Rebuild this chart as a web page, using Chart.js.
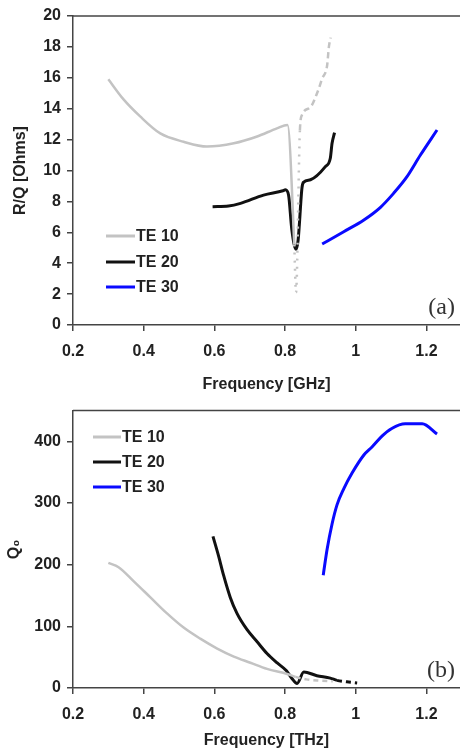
<!DOCTYPE html>
<html lang="en">
<head>
    <meta charset="UTF-8">
    <title>R/Q and Q0 vs Frequency</title>
    <script src="https://cdn.jsdelivr.net/npm/chart.js"></script>
    <style>
        body {
            margin: 0;
            background: white;
        }
        canvas {
            display: block;
        }
    </style>
</head>
<body>

    <canvas id="chartA" width="460" height="395"></canvas>
    <canvas id="chartB" width="460" height="355"></canvas>

    <script>
        // ---- panel (a): R/Q [Ohms] ----
        const rqTe10Freq = [0.300, 0.343, 0.390, 0.447, 0.513, 0.579, 0.655, 0.721, 0.777, 0.807, 0.826, 0.831, 0.842, 0.848, 0.872, 0.893, 0.905, 0.919, 0.924, 0.929];
        const rqTe10 = [15.9, 14.6, 13.5, 12.4, 11.86, 11.55, 11.76, 12.2, 12.73, 12.95, 5.2, 2.1, 12.6, 13.6, 14.1, 15.15, 15.95, 16.8, 18.0, 18.6];

        const rqTe20Freq = [0.595, 0.640, 0.674, 0.739, 0.794, 0.801, 0.810, 0.819, 0.831, 0.837, 0.848, 0.853, 0.872, 0.914, 0.928, 0.933, 0.940];
        const rqTe20 = [7.66, 7.70, 7.87, 8.41, 8.69, 8.75, 8.4, 6.2, 4.9, 5.5, 8.9, 9.25, 9.4, 10.25, 10.79, 11.76, 12.45];

        const rqTe30Freq = [0.905, 0.966, 1.023, 1.070, 1.107, 1.145, 1.183, 1.230];
        const rqTe30 = [5.24, 6.04, 6.8, 7.62, 8.52, 9.6, 11.0, 12.62];

        // ---- panel (b): Q0 ----
        const qTe10Freq = [0.300, 0.329, 0.372, 0.419, 0.466, 0.513, 0.560, 0.608, 0.655, 0.702, 0.749, 0.806, 0.830, 0.860, 0.900, 0.935];
        const qTe10 = [203, 196, 173, 147, 121, 98, 80, 64, 51, 41, 31, 22.8, 18, 14, 12, 11];

        const qTe20Freq = [0.596, 0.612, 0.626, 0.645, 0.664, 0.692, 0.721, 0.749, 0.777, 0.804, 0.820, 0.834, 0.853, 0.890, 0.928, 0.947, 0.975, 1.004];
        const qTe20 = [246, 214, 183, 147, 121, 95, 75, 56, 41, 28, 15, 7.3, 26, 20, 16, 12.4, 10, 8.3];

        const qTe30Freq = [0.908, 0.919, 0.933, 0.947, 0.966, 0.990, 1.023, 1.046, 1.075, 1.102, 1.140, 1.188, 1.230];
        const qTe30 = [183, 225, 266, 297, 323, 349, 378, 391, 409, 421, 428.5, 428.5, 412];

        const seriesLabels = ['TE 10', 'TE 20', 'TE 30'];
        const seriesColors = ['#c3c3c3', '#111111', '#0a0aff'];

        const freqTicks = [0.2, 0.4, 0.6, 0.8, 1.0, 1.2];

        function toPoints(xs, ys) {
            return xs.map((x, i) => ({ x: x, y: ys[i] }));
        }

        const tickFont = { family: "'Liberation Sans', Arial, sans-serif", size: 16, weight: 'bold' };
        const axisColor = '#444';

        // legend, top frame line and panel letter
        const decorPlugin = {
            id: 'decor',
            afterDraw(chart, args, opts) {
                const ctx = chart.ctx;
                const area = chart.chartArea;
                ctx.save();
                ctx.strokeStyle = axisColor;
                ctx.lineWidth = 1.5;
                ctx.beginPath();
                ctx.moveTo(area.left, area.top);
                ctx.lineTo(area.right, area.top);
                ctx.stroke();

                ctx.font = "bold 16px 'Liberation Sans', Arial, sans-serif";
                ctx.textBaseline = 'middle';
                ctx.textAlign = 'left';
                seriesLabels.forEach((label, i) => {
                    const y = opts.legendY[i];
                    ctx.strokeStyle = seriesColors[i];
                    ctx.lineWidth = 3;
                    ctx.beginPath();
                    ctx.moveTo(opts.legendX, y);
                    ctx.lineTo(opts.legendX + opts.legendLen, y);
                    ctx.stroke();
                    ctx.fillStyle = '#222';
                    ctx.fillText(label, opts.legendX + opts.legendLen + 1, y + 1);
                });

                ctx.font = "24px 'Liberation Serif', 'Times New Roman', serif";
                ctx.textAlign = 'right';
                ctx.fillStyle = '#333';
                ctx.fillText(opts.letter, opts.letterX, opts.letterY);
                ctx.restore();
            }
        };

        function makeChart(canvasId, sets, yOpts, xTitle, yTitle, yTitlePad, xTitlePad, layoutTop, xHeight, decor) {
            const dashRules = sets.map(s => s.dash);
            return new Chart(document.getElementById(canvasId), {
                type: 'line',
                data: {
                    datasets: sets.map((s, i) => ({
                        label: seriesLabels[i],
                        data: s.points,
                        borderColor: seriesColors[i],
                        borderWidth: i === 0 ? 2.5 : 3,
                        pointRadius: 0,
                        fill: false,
                        cubicInterpolationMode: 'monotone',
                        segment: {
                            borderDash: ctx => dashRules[i](ctx.p0.parsed.x)
                        }
                    }))
                },
                plugins: [decorPlugin],
                options: {
                    responsive: false,
                    animation: false,
                    devicePixelRatio: 1,
                    layout: { padding: { top: layoutTop, left: 0, right: 0, bottom: 0 } },
                    plugins: {
                        legend: { display: false },
                        tooltip: { enabled: false },
                        decor: decor
                    },
                    scales: {
                        x: {
                            type: 'linear',
                            min: 0.2,
                            max: 1.295,
                            afterBuildTicks: s => {
                                s.ticks = freqTicks.map(v => ({ value: v }));
                            },
                            afterFit: s => { s.height = xHeight; },
                            ticks: {
                                font: tickFont,
                                color: '#222',
                                padding: 11,
                                maxRotation: 0,
                                autoSkip: false,
                                callback: v => String(+v.toFixed(1))
                            },
                            grid: {
                                drawOnChartArea: false,
                                drawTicks: true,
                                tickLength: 6,
                                color: axisColor,
                                lineWidth: 1.5
                            },
                            border: { display: true, color: axisColor, width: 1.5 },
                            title: {
                                display: true,
                                text: xTitle,
                                font: tickFont,
                                color: '#222',
                                padding: { top: 0, bottom: xTitlePad }
                            }
                        },
                        y: {
                            type: 'linear',
                            min: 0,
                            max: yOpts.max,
                            afterBuildTicks: s => {
                                s.ticks = yOpts.ticks.map(v => ({ value: v }));
                            },
                            afterFit: s => { s.width = 73; },
                            ticks: {
                                font: tickFont,
                                color: '#222',
                                padding: 6
                            },
                            grid: {
                                drawOnChartArea: false,
                                drawTicks: true,
                                tickLength: 6,
                                color: axisColor,
                                lineWidth: 1.5
                            },
                            border: { display: true, color: axisColor, width: 1.5 },
                            title: {
                                display: true,
                                text: yTitle,
                                font: tickFont,
                                color: '#222',
                                padding: { top: yTitlePad, bottom: 0 }
                            }
                        }
                    }
                }
            });
        }

        const solid = () => undefined;

        makeChart('chartA', [
            {
                points: toPoints(rqTe10Freq, rqTe10),
                dash: x => x < 0.825 ? undefined : (x < 0.841 ? [2, 6] : [6, 4])
            },
            { points: toPoints(rqTe20Freq, rqTe20), dash: solid },
            { points: toPoints(rqTe30Freq, rqTe30), dash: solid }
        ], { max: 20, ticks: [0, 2, 4, 6, 8, 10, 12, 14, 16, 18, 20] },
            'Frequency [GHz]', 'R/Q [Ohms]', 11, 1, 16, 70,
            { legendX: 106, legendLen: 29, legendY: [236, 262, 287], letter: '(a)', letterX: 455, letterY: 308 });

        makeChart('chartB', [
            {
                points: toPoints(qTe10Freq, qTe10),
                dash: x => x < 0.83 ? undefined : [5, 4]
            },
            {
                points: toPoints(qTe20Freq, qTe20),
                dash: x => x < 0.946 ? undefined : [5, 4]
            },
            { points: toPoints(qTe30Freq, qTe30), dash: solid }
        ], { max: 450, ticks: [0, 100, 200, 300, 400] },
            'Frequency [THz]', 'Q\u2080', 5, 0, 3, 62,
            { legendX: 93, legendLen: 28, legendY: [42, 67, 92], letter: '(b)', letterX: 455, letterY: 276 });
    </script>

</body>
</html>
